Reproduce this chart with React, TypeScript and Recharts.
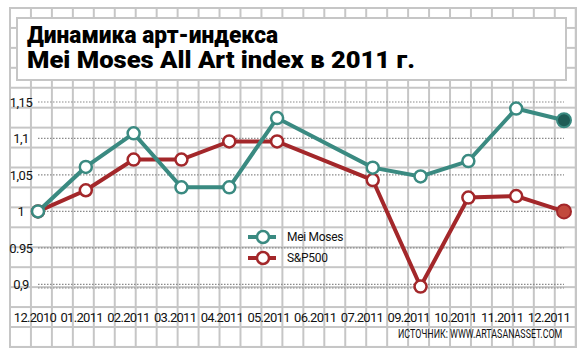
import { LineChart, Line, XAxis, YAxis, CartesianGrid } from 'recharts';

const months = ['12.2010', '01.2011', '02.2011', '03.2011', '04.2011', '05.2011', '06.2011', '07.2011', '09.2011', '10.2011', '11.2011', '12.2011'];
const meiMoses = [1.0, 1.061, 1.107, 1.033, 1.033, 1.128, null, 1.06, 1.048, 1.069, 1.141, 1.125];
const sp500 = [1.0, 1.029, 1.071, 1.071, 1.096, 1.096, null, 1.043, 0.897, 1.019, 1.021, 1.0];
const yTicks = [0.9, 0.95, 1, 1.05, 1.1, 1.15];
const yTickLabels = ['0,9', '0.95', '1', '1,05', '1,1', '1,15'];

const series = [
  { key: 'mei', name: 'Mei Moses', color: '#3a8a81', lastFill: '#1f5c56' },
  { key: 'sp', name: 'S&P500', color: '#a3272a', lastFill: '#c2493d' },
];

const data = months.map((m, i) => ({ month: m, mei: meiMoses[i], sp: sp500[i] }));

const FONT = 'Roboto, "Liberation Sans", sans-serif';

const makeDot = (color: string, lastFill: string) => (props: any) => {
  const { cx, cy, index } = props;
  if (cx == null || cy == null || props.value == null) return <g key={index} />;
  const last = index === months.length - 1;
  return (
    <circle
      key={index}
      cx={cx}
      cy={cy}
      r={last ? 7 : 6}
      fill={last ? lastFill : '#fff'}
      stroke={color}
      strokeWidth={last ? 2 : 2.5}
    />
  );
};

const XTick = (props: any) => {
  const { x, y, payload, index } = props;
  return (
    <text x={x - 3 - index * 1.1} y={y} dy="0.71em" textAnchor="middle" fontSize={13} letterSpacing={-0.7} fill="#111" fontFamily={FONT}>
      {payload.value}
    </text>
  );
};

const YTick = (props: any) => {
  const { x, y, payload } = props;
  const i = yTicks.indexOf(payload.value);
  return (
    <text x={x - 17} y={y} dy={5} textAnchor="middle" fontSize={13} letterSpacing={-0.5} fill="#111" fontFamily={FONT}>
      {yTickLabels[i]}
    </text>
  );
};

export default function App() {
  return (
    <div style={{ position: 'absolute', left: 0, top: 0, width: 585, height: 356, background: '#fff', overflow: 'hidden' }}>
      {/* graph paper */}
      <div
        style={{
          position: 'absolute',
          left: 9,
          top: 7,
          width: 568,
          height: 341,
          backgroundImage:
            'linear-gradient(to right, #c6c6c6 2px, transparent 2px), linear-gradient(to bottom, #c6c6c6 2px, transparent 2px)',
          backgroundSize: '20.96px 19.94px',
          borderRight: '2px solid #c6c6c6',
          borderBottom: '2px solid #c6c6c6',
          boxSizing: 'border-box',
        }}
      />
      <svg width={585} height={356} style={{ position: 'absolute', left: 0, top: 0 }}>
        <rect x={17} y={18} width={549} height={62} fill="#fff" stroke="#c6c6c6" strokeWidth={2} />
        <text x={27} y={43} fontSize={24} fontWeight={900} fontFamily={FONT} textLength={251} lengthAdjust="spacingAndGlyphs" fill="#000">
          Динамика арт-индекса
        </text>
        <text x={27} y={68} fontSize={23} fontWeight={900} fontFamily={FONT} textLength={388} lengthAdjust="spacingAndGlyphs" fill="#000">
          Mei Moses All Art index в 2011 г.
        </text>
        <text transform="translate(398,338) scale(0.74,1)" fontSize={12} fontFamily={FONT} fill="#111">
          ИСТОЧНИК: WWW.ARTASANASSET.COM
        </text>
      </svg>
      <div style={{ position: 'absolute', left: 0, top: 0 }}>
        <LineChart width={585} height={356} data={data} margin={{ top: 102, right: 21, bottom: 38, left: 0 }}>
          <CartesianGrid vertical={false} stroke="#8a8a8a" strokeDasharray="1.5 1.5" strokeWidth={1.2} />
          <XAxis dataKey="month" axisLine={false} tickLine={false} tickSize={0} tickMargin={25} height={30} tick={<XTick />} interval={0} />
          <YAxis
            type="number"
            domain={[0.895, 1.15]}
            ticks={yTicks}
            width={38}
            axisLine={false}
            tickLine={false}
            tickSize={0}
            tickMargin={0}
            tick={<YTick />}
          />
          {[...series].reverse().map((s) => (
            <Line
              key={s.key}
              type="linear"
              dataKey={s.key}
              name={s.name}
              stroke={s.color}
              strokeWidth={4}
              connectNulls
              dot={makeDot(s.color, s.lastFill)}
              activeDot={false}
              isAnimationActive={false}
            />
          ))}
        </LineChart>
      </div>
      {/* legend */}
      <div style={{ position: 'absolute', left: 248, top: 227, fontFamily: FONT, fontSize: 12, color: '#111' }}>
        {series.map((s) => (
          <div key={s.key} style={{ display: 'flex', alignItems: 'center', height: 20.5 }}>
            <svg width={30} height={18}>
              <line x1={0} y1={9} x2={28} y2={9} stroke={s.color} strokeWidth={4} />
              <circle cx={15} cy={9} r={6} fill="#fff" stroke={s.color} strokeWidth={2.5} />
            </svg>
            <span style={{ marginLeft: 9, letterSpacing: -0.3 }}>{s.name}</span>
          </div>
        ))}
      </div>
    </div>
  );
}
